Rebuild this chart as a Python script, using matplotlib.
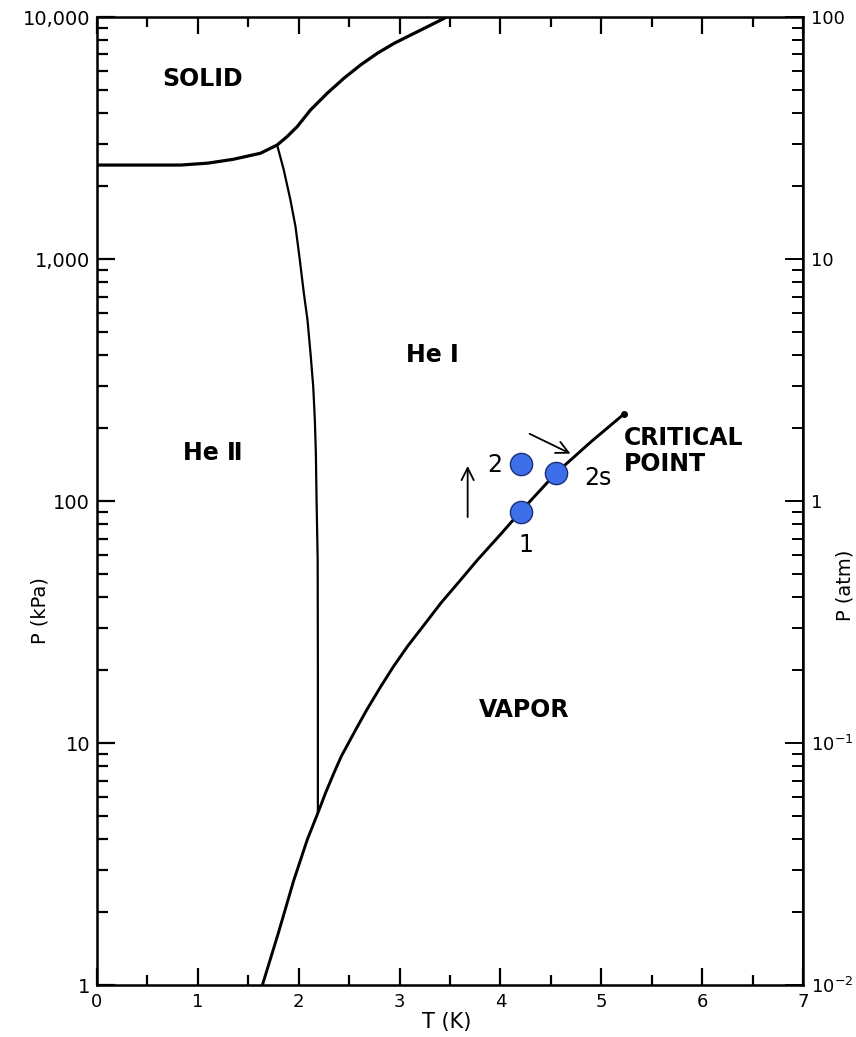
import matplotlib
matplotlib.use("Agg")
import matplotlib.pyplot as plt
from matplotlib.ticker import FixedLocator, NullFormatter, LogLocator
import numpy as np

plt.rcParams['font.family'] = ['DejaVu Sans']

# melting curve (solid / liquid boundary), T in K, P in kPa
melt_T = [0.0, 0.5, 0.83, 1.1, 1.352, 1.62, 1.786, 1.886, 1.985, 2.117, 2.283,
          2.449, 2.614, 2.780, 2.946, 3.111, 3.277, 3.443, 3.46]
melt_P = [2445, 2445, 2445, 2490, 2583, 2735, 2958, 3208, 3524, 4130, 4843,
          5587, 6340, 7083, 7784, 8427, 9120, 9880, 10000]

# lambda line between He I and He II
lam_T = [1.786, 1.852, 1.918, 1.968, 2.011, 2.051, 2.087, 2.117, 2.144, 2.160,
         2.170, 2.177, 2.188, 2.19, 2.19]
lam_P = [2958, 2334, 1753, 1362, 991, 722, 560, 408, 297, 216,
         158, 101, 57, 20, 5.14]

# saturated vapour pressure curve up to the critical point
vap_T = [1.64, 1.80, 1.95, 2.085, 2.19, 2.266, 2.349, 2.422, 2.565, 2.674, 2.813,
         2.939, 3.079, 3.244, 3.41, 3.592, 3.774, 4.006, 4.2, 4.553, 4.9, 5.226]
vap_P = [1.0, 1.65, 2.7, 3.99, 5.14, 6.22, 7.52, 8.81, 11.35, 13.7, 17.1,
         20.7, 25.1, 30.8, 37.9, 46.5, 57.2, 73.2, 90.5, 130.7, 176, 229]

# state points
pt_names = ['1', '2', '2s']
pt_T = [4.2, 4.2, 4.553]
pt_P = [90.5, 142.5, 130.7]
pt_label_T = [4.255, 3.94, 4.97]
pt_label_P = [65.9, 141, 124.7]

# region labels
regions = ['SOLID', 'He Ⅰ', 'He Ⅱ', 'VAPOR']
region_T = [1.05, 3.33, 1.15, 4.24]
region_P = [5546, 402, 158, 13.7]

kpa_ticks = [1, 10, 100, 1000, 10000]
kpa_labels = ['1', '10', '100', '1,000', '10,000']
atm_ticks = [0.01, 0.1, 1, 10, 100]
atm_labels = [r'$10^{-2}$', r'$10^{-1}$', '1', '10', '100']

fig = plt.figure(figsize=(8.56, 10.37), dpi=100)
ax = fig.add_axes([0.1133, 0.0501, 0.8248, 0.9335])

ax.set_xlim(0, 7)
ax.set_yscale('log')
ax.set_ylim(1, 10000)

ax.plot(melt_T, melt_P, color='black', lw=2.3, solid_joinstyle='round')
ax.plot(lam_T, lam_P, color='black', lw=1.6, solid_joinstyle='round')
ax.plot(vap_T, vap_P, color='black', lw=2.1, solid_joinstyle='round')
ax.plot([vap_T[-1]], [vap_P[-1]], 'o', color='black', ms=4)

ax.plot(pt_T, pt_P, 'o', ms=16, color='#3d6fe8', mec='#1c2f7a', mew=1, zorder=5)
for name, tx, py in zip(pt_names, pt_label_T, pt_label_P):
    ax.text(tx, py, name, fontsize=17, ha='center', va='center')

arrow = dict(arrowstyle='->', lw=1.3, color='black', mutation_scale=22)
ax.annotate('', xy=(3.675, 143.4), xytext=(3.675, 83.6), arrowprops=arrow)
ax.annotate('', xy=(4.719, 155.2), xytext=(4.264, 191.8), arrowprops=arrow)

for name, tx, py in zip(regions, region_T, region_P):
    ax.text(tx, py, name, fontsize=17, fontweight='bold', ha='center', va='center')
ax.text(5.22, 161, 'CRITICAL\nPOINT', fontsize=17, fontweight='bold',
        ha='left', va='center', linespacing=1.15)

# left axis (kPa)
ax.yaxis.set_major_locator(FixedLocator(kpa_ticks))
ax.set_yticklabels(kpa_labels)
ax.yaxis.set_minor_locator(LogLocator(base=10, subs=np.arange(2, 10)))
ax.yaxis.set_minor_formatter(NullFormatter())
ax.set_xticks(range(8))
ax.set_xticks(np.arange(0.5, 7, 1.0), minor=True)
ax.tick_params(axis='both', which='both', direction='in', width=1.6, labelsize=13)
ax.tick_params(axis='x', which='both', top=True)
ax.tick_params(axis='y', which='major', length=13, pad=5, labelsize=14)
ax.tick_params(axis='y', which='minor', length=8)
ax.tick_params(axis='x', which='major', length=12, pad=6)
ax.tick_params(axis='x', which='minor', length=7)
for s in ax.spines.values():
    s.set_linewidth(1.8)

ax.set_xlabel('T (K)', fontsize=15, va='center')
ax.xaxis.set_label_coords(0.496, -0.038)
ax.set_ylabel('P (kPa)', fontsize=14, va='center')
ax.yaxis.set_label_coords(-0.081, 0.387)

# right axis (atm)
ax2 = ax.twinx()
ax2.set_yscale('log')
ax2.set_ylim(0.01, 100)
ax2.yaxis.set_major_locator(FixedLocator(atm_ticks))
ax2.set_yticklabels(atm_labels)
ax2.yaxis.set_minor_locator(LogLocator(base=10, subs=np.arange(2, 10)))
ax2.yaxis.set_minor_formatter(NullFormatter())
ax2.tick_params(axis='y', which='both', direction='in', width=1.4, labelsize=13, pad=6)
ax2.tick_params(axis='y', which='major', length=13)
ax2.tick_params(axis='y', which='minor', length=8)
ax2.spines['right'].set_linewidth(1.4)
ax2.set_ylabel('P (atm)', fontsize=14, va='center')
ax2.yaxis.set_label_coords(1.059, 0.413)

fig.savefig('out.png', dpi=100)
